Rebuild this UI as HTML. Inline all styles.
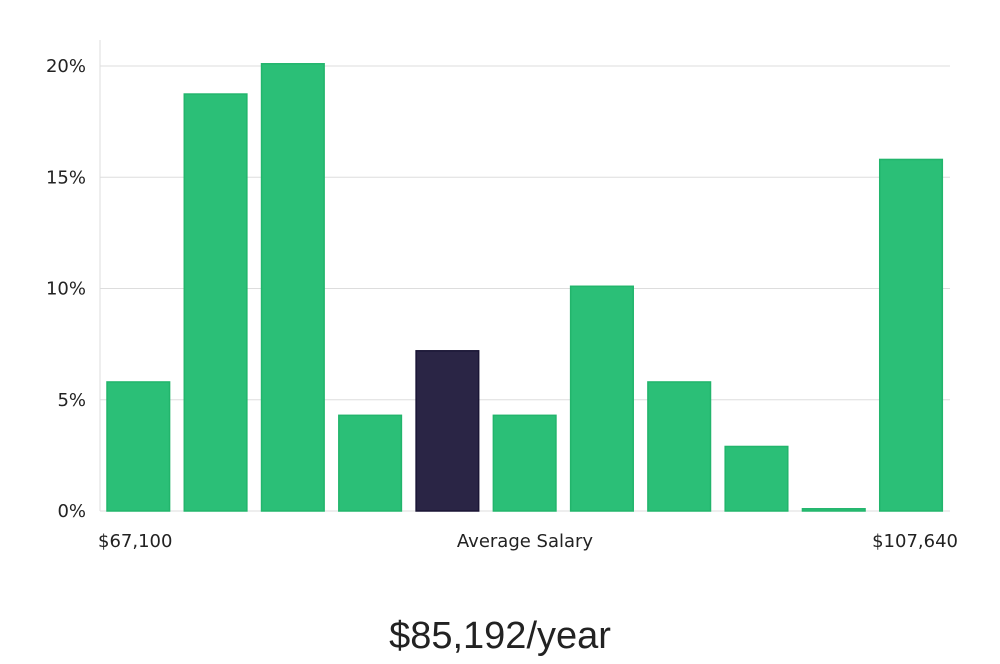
<!DOCTYPE html>
<html><head><meta charset="utf-8"><style>
body{margin:0;background:#fff;width:1000px;height:660px;overflow:hidden;font-family:"DejaVu Sans","Liberation Sans",sans-serif;}
</style></head><body>
<svg id="chart" width="1000" height="660" xmlns="http://www.w3.org/2000/svg">
<g id="grid"></g>
<g id="bars"></g>
<g id="yticks"></g>
<line x1="100" y1="40" x2="100" y2="511" stroke="#dddddd" stroke-width="1"/>
<text x="98" y="547" font-size="18" fill="#222">$67,100</text>
<text x="525" y="547" font-size="18" fill="#222" text-anchor="middle">Average Salary</text>
<text x="958" y="547" font-size="18" fill="#222" text-anchor="end">$107,640</text>
<text x="500" y="648" font-size="38" fill="#222" text-anchor="middle" font-family="Liberation Sans, sans-serif" font-weight="300">$85,192/year</text>
</svg>
<script>
const values = [5.8, 18.74, 20.1, 4.3, 7.2, 4.3, 10.1, 5.8, 2.9, 0.1, 15.8];
const highlightIndex = 4;
const tickValues = [0, 5, 10, 15, 20];
const tickLabels = ["0%", "5%", "10%", "15%", "20%"];

const NS = "http://www.w3.org/2000/svg";
const x0 = 100, x1 = 950, yBase = 511, yTop = 66, maxV = 20;
const y = v => yBase - (v / maxV) * (yBase - yTop);
const step = (x1 - x0) / values.length;
const bw = step * 0.81;
const grid = document.getElementById('grid');
const yt = document.getElementById('yticks');
tickValues.forEach((t, i) => {
  const l = document.createElementNS(NS, 'line');
  
  
  l.setAttribute('x1', x0); l.setAttribute('x2', x1);
  l.setAttribute('y1', y(t)); l.setAttribute('y2', y(t));
  l.setAttribute('stroke', '#dddddd'); l.setAttribute('stroke-width', '1');
  grid.appendChild(l);
  const tx = document.createElementNS(NS, 'text');
  
  
  tx.setAttribute('x', 86); tx.setAttribute('y', y(t) + 6);
  tx.setAttribute('text-anchor', 'end'); tx.setAttribute('font-size', '18');
  tx.setAttribute('fill', '#222');
  tx.textContent = tickLabels[i];
  yt.appendChild(tx);
});
const bars = document.getElementById('bars');
values.forEach((v, i) => {
  const r = document.createElementNS(NS, 'rect');
  
  
  const bx = x0 + 7 + i * step;
  r.setAttribute('x', bx); r.setAttribute('width', bw);
  r.setAttribute('y', y(v)); r.setAttribute('height', Math.max(1, yBase - y(v)));
  const hi = i === highlightIndex;
  r.setAttribute('fill', hi ? '#2a2545' : '#2bbf77');
  r.setAttribute('stroke', hi ? '#1a1535' : '#22b56c');
  r.setAttribute('stroke-width', '1.5');
  bars.appendChild(r);
});
</script>
</body></html>
